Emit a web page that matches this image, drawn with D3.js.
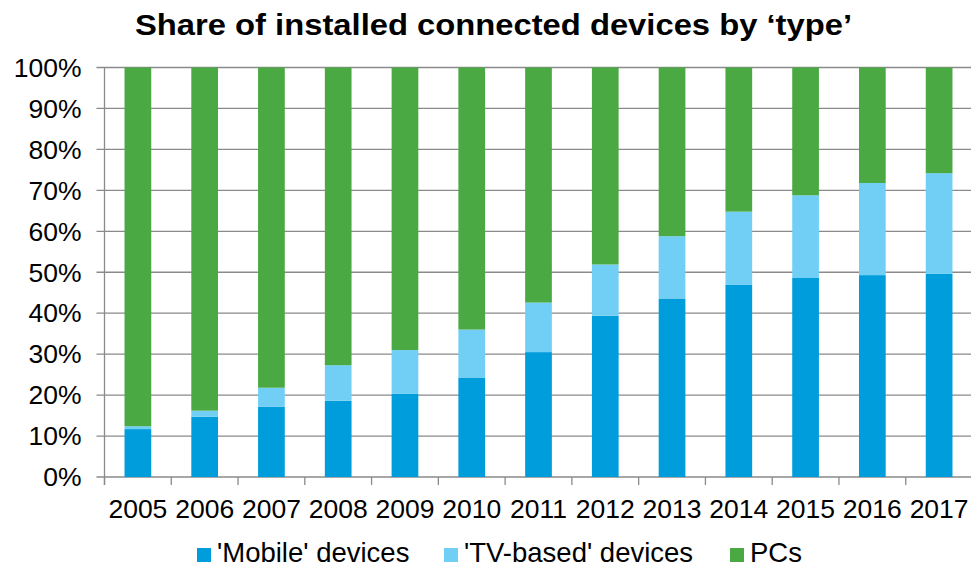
<!DOCTYPE html>
<html>
<head>
<meta charset="utf-8">
<script src="https://cdn.jsdelivr.net/npm/d3@7"></script>
<style>
  body { margin: 0; background: #fff; }
  svg { display: block; font-family: "Liberation Sans", Arial, sans-serif; }
</style>
</head>
<body>
<div id="chart"></div>
<script>
// shares, % of installed connected devices
const years = ["2005", "2006", "2007", "2008", "2009", "2010", "2011", "2012", "2013", "2014", "2015", "2016", "2017"];
const mobile = [11.7, 14.7, 17.2, 18.6, 20.3, 24.3, 30.5, 39.4, 43.6, 46.9, 48.6, 49.3, 49.6];
const tvBased = [0.7, 1.5, 4.6, 8.7, 10.7, 11.7, 12.1, 12.5, 15.2, 17.9, 20.2, 22.5, 24.6];
const pcs = [87.6, 83.8, 78.2, 72.7, 69.0, 64.0, 57.4, 48.1, 41.2, 35.2, 31.2, 28.2, 25.8];
const seriesNames = ["'Mobile' devices", "'TV-based' devices", "PCs"];
const yTicks = [0, 10, 20, 30, 40, 50, 60, 70, 80, 90, 100];

const COLORS = ["#009ddc", "#71cff5", "#4aa942"];
const LEGEND_X = [197, 444, 730];

const width = 971, height = 569;
const margin = { top: 67.5, right: -1.5, bottom: 92, left: 104.5 };
const W = width - margin.left - margin.right;
const H = height - margin.top - margin.bottom;

const rows = years.map((yr, i) => ({ year: yr, m: mobile[i], t: tvBased[i], p: pcs[i] }));
const stack = d3.stack().keys(["m", "t", "p"])(rows);

const x = d3.scaleBand().domain(years).range([0, W]).paddingInner(0.6).paddingOuter(0.3);
const y = d3.scaleLinear().domain([0, 100]).range([H, 0]);

const svg = d3.select('#chart').append('svg')
  .attr('width', width).attr('height', height);

// titulo (el original esta algo estirado en horizontal)
svg.append('text')
  .attr('x', 135).attr('y', 35)
  .attr('font-size', '30px').attr('font-weight', '700').attr('fill', '#000')
  .attr('textLength', 717).attr('lengthAdjust', 'spacingAndGlyphs')
  .text('Share of installed connected devices by \u2018type\u2019');

const g = svg.append('g').attr('transform', `translate(${margin.left},${margin.top})`);

// rejilla horizontal
g.selectAll('.grid').data(yTicks).join('line')
  .attr('x1', -8).attr('x2', W)
  .attr('y1', d => y(d)).attr('y2', d => y(d))
  .attr('stroke', '#8a8a8a').attr('stroke-width', 1.3);

// barras apiladas
stack.forEach((s, k) => {
  g.selectAll(null).data(s).join('rect')
    .attr('x', d => x(d.data.year))
    .attr('width', x.bandwidth())
    .attr('y', d => y(d[1]))
    .attr('height', d => y(d[0]) - y(d[1]))
    .attr('fill', COLORS[k]);
});

// eje y
g.append('line')
  .attr('x1', 0).attr('x2', 0).attr('y1', 0).attr('y2', H + 8)
  .attr('stroke', '#8a8a8a').attr('stroke-width', 1.3);
g.selectAll('.ylab').data(yTicks).join('text')
  .attr('x', -23).attr('y', d => y(d)).attr('dy', '0.35em')
  .attr('text-anchor', 'end').attr('font-size', '26.5px').attr('fill', '#000')
  .text(d => d + '%');

// eje x: ticks en los limites de cada categoria
const step = x.step();
const bounds = d3.range(years.length + 1).map(i => x(years[0]) - x.paddingOuter() * step + i * step);
g.selectAll('.xtick').data(bounds).join('line')
  .attr('x1', d => d).attr('x2', d => d).attr('y1', H).attr('y2', H + 8)
  .attr('stroke', '#8a8a8a').attr('stroke-width', 1.3);
g.selectAll('.xlab').data(years).join('text')
  .attr('x', d => x(d) + x.bandwidth() / 2).attr('y', H + 41)
  .attr('text-anchor', 'middle').attr('font-size', '26.5px').attr('fill', '#000')
  .text(d => d);

// leyenda
const leg = svg.append('g');
seriesNames.forEach((name, k) => {
  const lx = LEGEND_X[k];
  leg.append('rect')
    .attr('x', lx).attr('y', 548).attr('width', 14).attr('height', 14)
    .attr('fill', COLORS[k]);
  leg.append('text')
    .attr('x', lx + 20).attr('y', 562)
    .attr('font-size', '27.5px').attr('fill', '#000')
    .text(name);
});
</script>
</body>
</html>
